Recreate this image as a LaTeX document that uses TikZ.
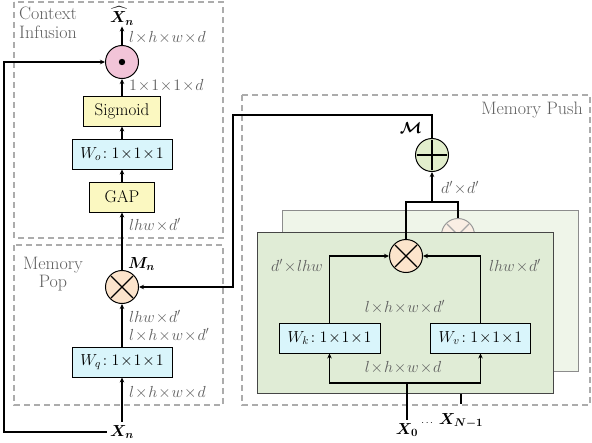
\RequirePackage{fix-cm}
\documentclass[tikz,border=0pt]{standalone}
\usepackage{amsmath}
\usepackage{amssymb}
\usepackage{fontspec}
\usetikzlibrary{positioning, arrows.meta, calc}

\definecolor{boxyellow}{RGB}{251,248,193}
\definecolor{boxcyan}{RGB}{217,245,251}
\definecolor{pinkop}{RGB}{242,196,216}
\definecolor{peachop}{RGB}{252,228,204}
\definecolor{peachfade}{RGB}{250,238,228}
\definecolor{greenop}{RGB}{226,238,204}
\definecolor{frontgreen}{RGB}{224,236,214}
\definecolor{backgreen}{RGB}{239,245,233}
\definecolor{dashgray}{RGB}{172,172,172}
\definecolor{labgray}{RGB}{95,95,95}
\definecolor{panelgray}{RGB}{70,70,70}

\newcommand{\by}{\mskip1mu{\times}\mskip1mu}

\begin{document}
\begin{tikzpicture}[
            x=1pt, y=-1pt,
            every node/.style={font=\fontsize{16}{18}\selectfont},
            box/.style={draw, line width=0.9pt, minimum height=30pt, inner sep=2pt, align=center},
            txtbox/.style={box, font=\fontsize{17}{19}\selectfont},
            op/.style={circle, draw, line width=1pt, minimum size=33pt, inner sep=0pt},
            mulsym/.style={path picture={\draw[line width=1.1pt, #1] (path picture bounding box.center)
                        +(-11pt,-11pt) -- +(11pt,11pt) +(-11pt,11pt) -- +(11pt,-11pt);}},
            mulsym/.default=black,
            addsym/.style={path picture={\draw[line width=1.1pt] (path picture bounding box.center)
                        +(-15pt,0) -- +(15pt,0) +(0,-15pt) -- +(0,15pt);}},
            dotsym/.style={path picture={\fill[black] (path picture bounding box.center) circle (3.2pt);}},
            dim/.style={text=labgray, inner sep=1pt},
            title/.style={text=labgray, inner sep=1pt, font=\fontsize{18}{18.5}\selectfont},
            region/.style={draw=dashgray, line width=1.3pt, dash pattern=on 6pt off 4pt},
            panel/.style={draw, line width=1pt, minimum width=296pt, minimum height=161pt},
            wire/.style={line width=1.2pt},
            arrow/.style={-{Stealth[length=5pt, width=4.5pt]}, line width=1.2pt}
      ]
      \useasboundingbox (0,0) rectangle (592,442);

      % Dashed regions
      \draw[region] (14,2) rectangle (223,238);
      \draw[region] (14,245) rectangle (223,405);
      \draw[region] (242,95) rectangle (590,405);
      \node[title, anchor=north west, align=left] (ctxlbl) at (18,6) {Context\\Infusion};
      \node[title, align=center] (poplbl) at (53,274) {Memory\\Pop};
      \node[title, anchor=north east] (pushlbl) at (584,101) {Memory Push};

      % Context infusion column
      \node[inner sep=1pt] (xhat) at (122,16) {$\boldsymbol{\widehat{X}_n}$};
      \node[op, fill=pinkop, dotsym] (odot) at (122,62) {};
      \node[txtbox, fill=boxyellow, minimum width=77pt] (sig) at (122,111) {Sigmoid};
      \node[box, fill=boxcyan, minimum width=100pt] (wo) at (122,154) {$W_o\!:1\by1\by1$};
      \node[txtbox, fill=boxyellow, minimum width=65pt] (gap) at (122,197) {GAP};

      % Memory pop column
      \node[op, fill=peachop, mulsym] (mul) at (122,287) {};
      \node[box, fill=boxcyan, minimum width=100pt] (wq) at (122,362) {$W_q\!:1\by1\by1$};
      \node (xn) at (122,432) {$\boldsymbol{X_n}$};

      % Memory push panels
      \node[panel, fill=backgreen, draw=black!45] (back) at (430,290.5) {};
      \node[op, fill=peachfade, draw=black!40, mulsym=black!35] (mulb) at (458,235) {};
      \coordinate (bin) at (461,404);
      \draw[wire] (back.south -| bin) -- (bin);
      \node[panel, fill=frontgreen, draw=panelgray] (front) at (405,312.5) {};

      \node[op, fill=greenop, addsym] (add) at (432,155) {};
      \node (mcal) at (411,128) {$\boldsymbol{\mathcal{M}}$};
      \node[op, fill=peachop, mulsym] (mulf) at (406,256) {};
      \node[box, fill=boxcyan, minimum width=101pt] (wk) at (329.5,338) {$W_k\!:1\by1\by1$};
      \node[box, fill=boxcyan, minimum width=100pt] (wv) at (480.5,338) {$W_v\!:1\by1\by1$};
      \node (x0) at (407,430) {$\boldsymbol{X_0}$};
      \node[font=\fontsize{10}{12}\selectfont] (dots) at (428,423) {$\cdots$};
      \node (xN) at (461,421) {$\boldsymbol{X_{N-1}}$};

      % Shape labels
      \node[dim, anchor=west] (d1) at (128,38) {$l\by h\by w\by d$};
      \node[dim, anchor=west] (d2) at (128,86) {$1\by 1\by 1\by d$};
      \node[dim, anchor=west] (d3) at (128,225) {$lhw\by d'$};
      \node[anchor=west, inner sep=1pt] (mn) at (127,264) {$\boldsymbol{M_n}$};
      \node[dim, anchor=west] (d4) at (128,317) {$lhw\by d'$};
      \node[dim, anchor=west] (d5) at (128,335) {$l\by h\by w\by d'$};
      \node[dim, anchor=west] (d6) at (128,393) {$l\by h\by w\by d$};
      \node[dim, anchor=west] (d7) at (440,188) {$d'\by d'$};
      \node[dim] (d8) at (297,266) {$d'\by lhw$};
      \node[dim] (d9) at (515,266) {$lhw\by d'$};
      \node[dim] (d10) at (405,307) {$l\by h\by w\by d'$};
      \node[dim] (d11) at (403,368) {$l\by h\by w\by d$};

      % Left column flow
      \draw[arrow] (xn) -- (wq);
      \draw[arrow] (wq) -- (mul);
      \draw[arrow] (mul) -- (gap);
      \draw[arrow] (gap) -- (wo);
      \draw[arrow] (wo) -- (sig);
      \draw[arrow] (sig) -- (odot);
      \draw[arrow] (odot) -- (xhat);

      \coordinate (fb) at (4,432);
      \draw[arrow] (xn.west) -- (fb) |- (odot.west);

      % Push flow
      \coordinate (split) at (407,383);
      \draw[wire] (x0.north) -- (split);
      \draw[arrow] (split) -| (wk.south);
      \draw[arrow] (split) -| (wv.south);
      \draw[arrow] (wk.north) |- (mulf.west);
      \draw[arrow] (wv.north) |- (mulf.east);

      \coordinate (br) at (432,202);
      \draw[wire] (mulf.north) |- (br) -| (mulb.north);
      \draw[arrow] (br) -- (add.south);

      \coordinate (mtop) at (233,115);
      \draw[arrow] (add.north) |- (mtop) |- (mul.east);
\end{tikzpicture}
\end{document}
